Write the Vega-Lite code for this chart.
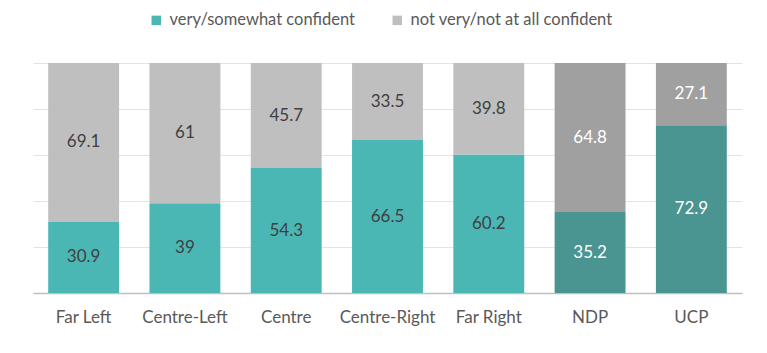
{
  "$schema": "https://vega.github.io/schema/vega-lite/v6.json",
  "width": 709,
  "height": 230,
  "autosize": {"type": "none"},
  "padding": {"left": 33, "top": 63, "right": 25, "bottom": 60},
  "config": {"view": {"stroke": null}, "font": "Lato, sans-serif"},
  "data": {
    "values": [
      {"party": "Far Left", "group": "Ideology", "series": "very/somewhat confident", "value": 30.9},
      {"party": "Far Left", "group": "Ideology", "series": "not very/not at all confident", "value": 69.1},
      {"party": "Centre-Left", "group": "Ideology", "series": "very/somewhat confident", "value": 39},
      {"party": "Centre-Left", "group": "Ideology", "series": "not very/not at all confident", "value": 61},
      {"party": "Centre", "group": "Ideology", "series": "very/somewhat confident", "value": 54.3},
      {"party": "Centre", "group": "Ideology", "series": "not very/not at all confident", "value": 45.7},
      {"party": "Centre-Right", "group": "Ideology", "series": "very/somewhat confident", "value": 66.5},
      {"party": "Centre-Right", "group": "Ideology", "series": "not very/not at all confident", "value": 33.5},
      {"party": "Far Right", "group": "Ideology", "series": "very/somewhat confident", "value": 60.2},
      {"party": "Far Right", "group": "Ideology", "series": "not very/not at all confident", "value": 39.8},
      {"party": "NDP", "group": "Party", "series": "very/somewhat confident", "value": 35.2},
      {"party": "NDP", "group": "Party", "series": "not very/not at all confident", "value": 64.8},
      {"party": "UCP", "group": "Party", "series": "very/somewhat confident", "value": 72.9},
      {"party": "UCP", "group": "Party", "series": "not very/not at all confident", "value": 27.1}
    ]
  },
  "transform": [
    {"stack": "value", "groupby": ["party"], "sort": [{"field": "series", "order": "descending"}], "as": ["y0", "y1"]},
    {"calculate": "(datum.y0 + datum.y1) / 2", "as": "ymid"}
  ],
  "encoding": {
    "x": {
      "field": "party",
      "type": "nominal",
      "sort": ["Far Left", "Centre-Left", "Centre", "Centre-Right", "Far Right", "NDP", "UCP"],
      "scale": {"paddingInner": 0.3, "paddingOuter": 0.15},
      "axis": {
        "title": null,
        "labelAngle": 0,
        "labelFontSize": 17,
        "labelColor": "#595959",
        "labelPadding": 16,
        "ticks": false,
        "domainColor": "#BFBFBF",
        "domainWidth": 1.5
      }
    }
  },
  "layer": [
    {
      "mark": {"type": "bar"},
      "encoding": {
        "y": {
          "field": "y0",
          "type": "quantitative",
          "scale": {"domain": [0, 100]},
          "axis": {
            "title": null,
            "values": [0, 20, 40, 60, 80, 100],
            "labels": false,
            "ticks": false,
            "domain": false,
            "grid": true,
            "gridColor": "#E3E3E3",
            "gridWidth": 1
          }
        },
        "y2": {"field": "y1"},
        "color": {
          "field": "series",
          "type": "nominal",
          "scale": {
            "domain": ["very/somewhat confident", "not very/not at all confident"],
            "range": ["#4BB7B5", "#BFBFBF"]
          },
          "legend": {
            "title": null,
            "orient": "none",
            "legendX": 115,
            "legendY": -51,
            "direction": "horizontal",
            "symbolType": "square",
            "symbolSize": 90,
            "symbolStrokeWidth": 0,
            "labelFontSize": 16.5,
            "labelLimit": 0,
            "labelColor": "#595959",
            "labelOffset": 5,
            "columnPadding": 34
          },
          "condition": [
            {"test": "datum.group === 'Party' && datum.series === 'very/somewhat confident'", "value": "#4A9492"},
            {"test": "datum.group === 'Party'", "value": "#A0A0A0"}
          ]
        }
      }
    },
    {
      "mark": {"type": "text", "fontSize": 17},
      "encoding": {
        "y": {"field": "ymid", "type": "quantitative"},
        "text": {"field": "value", "type": "quantitative"},
        "color": {
          "condition": {"test": "datum.group === 'Party'", "value": "#FFFFFF"},
          "value": "#404040"
        }
      }
    }
  ]
}
